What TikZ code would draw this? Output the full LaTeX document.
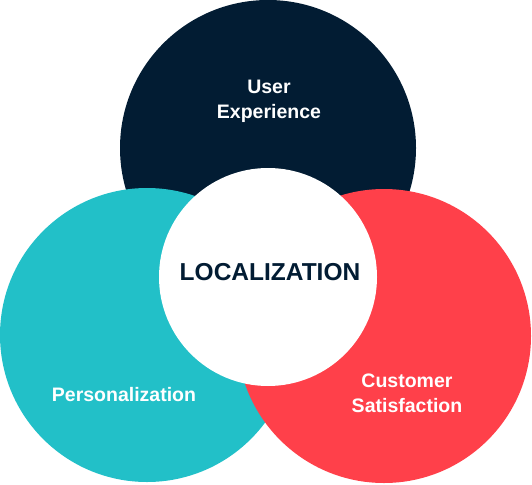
\documentclass[tikz,border=0pt]{standalone}
\usepackage{fontspec}
\setmainfont{Liberation Sans}
\usepackage{tikz}

\definecolor{uxnavy}{HTML}{021C33}
\definecolor{personteal}{HTML}{22C0C8}
\definecolor{custred}{HTML}{FF404A}

\begin{document}
\begin{tikzpicture}[x=1pt,y=1pt]
	\tikzstyle{every node}+=[inner sep=0pt]
	\tikzstyle{ring text}=[text=white, align=center, font=\fontsize{19.5}{25}\selectfont\bfseries]
	\useasboundingbox (0,0) rectangle (532,-484);
	\fill [uxnavy] (268,-148) circle (148pt);
	\fill [personteal] (147,-335) circle (147pt);
	\fill [custred] (384,-336) circle (147pt);
	\fill [white] (268,-277) circle (109pt);
	\draw (269,-101.5) node [ring text] (ux) {User\\Experience};
	\draw (124,-395) node [ring text] (pers) {Personalization};
	\draw (407,-393) node [ring text] (cust) {Customer\\Satisfaction};
	\draw (270,-272) node [text=uxnavy, font=\fontsize{24.5}{28}\selectfont\bfseries] (loc) {LOCALIZATION};
\end{tikzpicture}
\end{document}
